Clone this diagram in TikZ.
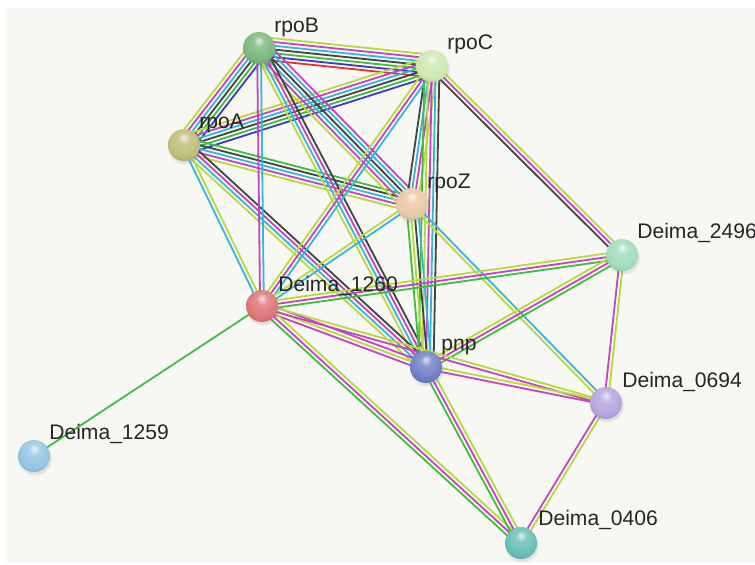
\documentclass[tikz,border=0pt]{standalone}
\usepackage{fontspec}
\setmainfont{Liberation Sans}
\usetikzlibrary{calc, shadows}

% evidence colours
\definecolor{cnb}{HTML}{3DBF3D}
\definecolor{cfu}{HTML}{E83030}
\definecolor{ccc}{HTML}{3A3AC8}
\definecolor{cco}{HTML}{444444}
\definecolor{cex}{HTML}{C444C4}
\definecolor{cdb}{HTML}{34B8DA}
\definecolor{ctm}{HTML}{BAD93A}
\definecolor{paper}{HTML}{F7F7F3}

% protein colours
\definecolor{krpoB}{HTML}{78B878}
\definecolor{krpoC}{HTML}{CDE8AE}
\definecolor{krpoA}{HTML}{BDBD78}
\definecolor{krpoZ}{HTML}{E8C8A6}
\definecolor{k2496}{HTML}{9EDDBC}
\definecolor{k1260}{HTML}{DC7474}
\definecolor{kpnp}{HTML}{6E7EC6}
\definecolor{k0694}{HTML}{B4A4DE}
\definecolor{k1259}{HTML}{94C4E2}
\definecolor{k0406}{HTML}{66BEB6}

\pgfdeclarelayer{bg}
\pgfdeclarelayer{edges}
\pgfsetlayers{bg,edges,main}

% glossy sphere, redeclared for each colour pcol
\colorlet{pcol}{gray}
\pgfdeclareradialshading[pcol]{glossy}{\pgfqpoint{0bp}{12bp}}{%
  color(0bp)=(pcol!25!white); color(9bp)=(pcol!80!white);
  color(26bp)=(pcol); color(37bp)=(pcol!78!black); color(60bp)=(pcol!78!black)}

% one bundle of parallel evidence lines between two proteins
\newcommand{\bundle}[3]{%
  \foreach \c [count=\k] in {#3} {\global\let\nlin\k}
  \foreach \c [count=\i] in {#3} {
    \pgfmathsetmacro{\off}{((\nlin+1)/2-\i)*0.075}
    \draw[link, \c] ($(#1.center)!\off cm!90:(#2.center)$) -- ($(#2.center)!\off cm!-90:(#1.center)$);
  }}

\begin{document}
\begin{tikzpicture}[x=0.02cm, y=-0.02cm,
  prot/.style={circle, minimum size=0.64cm, inner sep=0pt,
    /utils/exec={\colorlet{pcol}{#1}}, shading=glossy,
    circular drop shadow={shadow xshift=0.4pt, shadow yshift=-1.2pt, opacity=0.2}},
  lbl/.style={anchor=west, inner sep=0pt, font=\fontsize{12}{14}\selectfont, text=black!85},
  link/.style={line width=0.036cm}
]
\useasboundingbox (0,0) rectangle (755,565);
\begin{pgfonlayer}{bg}
\fill[paper] (6,8) rectangle (755,563);
\end{pgfonlayer}

% proteins
\node[prot=krpoB] (rpoB) at (259,48) {};
\node[prot=krpoC] (rpoC) at (432,66) {};
\node[prot=krpoA] (rpoA) at (184,145) {};
\node[prot=krpoZ] (rpoZ) at (412,204) {};
\node[prot=k2496] (d2496) at (622,255) {};
\node[prot=k1260] (d1260) at (262,306) {};
\node[prot=kpnp] (pnp) at (426,367) {};
\node[prot=k0694] (d0694) at (606,403) {};
\node[prot=k1259] (d1259) at (34,456) {};
\node[prot=k0406] (d0406) at (521,543) {};

% names
\node[lbl] (rpoB-t) at ([shift={(15,-21)}]rpoB.center) {rpoB};
\node[lbl] (rpoC-t) at ([shift={(15,-22)}]rpoC.center) {rpoC};
\node[lbl] (rpoA-t) at ([shift={(15,-22)}]rpoA.center) {rpoA};
\node[lbl] (rpoZ-t) at ([shift={(15,-21)}]rpoZ.center) {rpoZ};
\node[lbl] (d2496-t) at ([shift={(15,-22)}]d2496.center) {Deima\_2496};
\node[lbl] (d1260-t) at ([shift={(16,-20)}]d1260.center) {Deima\_1260};
\node[lbl] (pnp-t) at ([shift={(15,-20)}]pnp.center) {pnp};
\node[lbl] (d0694-t) at ([shift={(16,-21)}]d0694.center) {Deima\_0694};
\node[lbl] (d1259-t) at ([shift={(15,-22)}]d1259.center) {Deima\_1259};
\node[lbl] (d0406-t) at ([shift={(17,-23)}]d0406.center) {Deima\_0406};

\begin{pgfonlayer}{edges}
\bundle{rpoB}{rpoC}{ctm,cex,cdb,cco,cnb,ccc,cfu}
\bundle{rpoB}{rpoA}{ccc,cnb,cco,cdb,cex,ctm}
\bundle{rpoA}{rpoC}{ctm,cex,cdb,cco,cnb,ccc}
\bundle{rpoA}{rpoZ}{cnb,cco,cdb,cex,ctm}
\bundle{rpoB}{rpoZ}{cex,cdb,cco,cdb,cex,ctm}
\bundle{rpoC}{rpoZ}{ctm,cex,cdb,cco}
\bundle{rpoB}{pnp}{cco,cex,cdb,ctm}
\bundle{rpoA}{pnp}{cco,cex,cdb,ctm}
\bundle{rpoC}{pnp}{cco,cdb,cex,ctm,cnb}
\bundle{rpoZ}{pnp}{cdb,cco,ctm,cnb}
\bundle{rpoB}{d1260}{cdb,cex}
\bundle{rpoA}{d1260}{ctm,cdb}
\bundle{rpoC}{d1260}{cdb,cex,ctm}
\bundle{rpoZ}{d1260}{cdb,ctm}
\bundle{rpoC}{d2496}{ctm,cex,cco}
\bundle{rpoZ}{d0694}{cdb,ctm}
\bundle{d1260}{d2496}{ctm,cex,cnb}
\bundle{pnp}{d2496}{ctm,cex,cnb}
\bundle{d1260}{pnp}{cex,ctm,cex}
\bundle{d1260}{d0694}{ctm,cex}
\bundle{pnp}{d0694}{ctm,cex}
\bundle{d2496}{d0694}{ctm,cex}
\bundle{d1260}{d0406}{ctm,cex,cnb}
\bundle{pnp}{d0406}{ctm,cex,cnb}
\bundle{d0694}{d0406}{ctm,cex}
\bundle{d1260}{d1259}{cnb}
\end{pgfonlayer}
\end{tikzpicture}
\end{document}
